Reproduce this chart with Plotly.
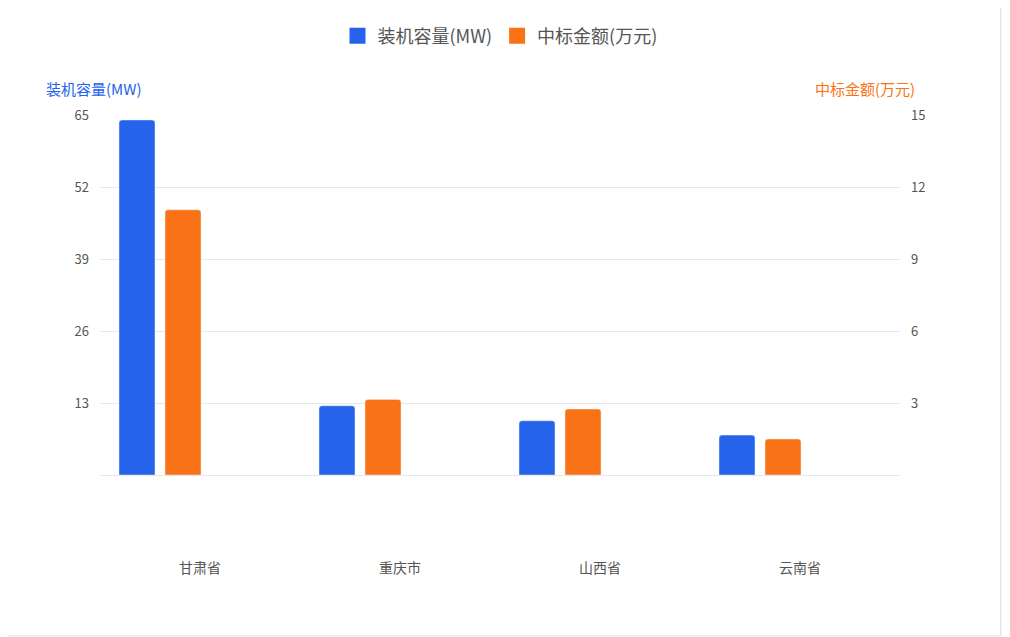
import plotly.graph_objects as go

categories = ["甘肃省", "重庆市", "山西省", "云南省"]
capacity_mw = [64.1, 12.5, 9.8, 7.2]
amount_wan = [11.05, 3.15, 2.75, 1.5]

F = "Noto Sans CJK SC"
BLUE, ORANGE = "#2563EB", "#F97316"
fig = go.Figure()
fig.add_bar(x=categories, y=capacity_mw, name="装机容量(MW)", marker_color=BLUE,
            width=0.18, offset=-0.405, yaxis="y", showlegend=False)
fig.add_bar(x=categories, y=amount_wan, name="中标金额(万元)", marker_color=ORANGE,
            width=0.18, offset=-0.175, yaxis="y2", showlegend=False)
for n, c in [("装机容量(MW)", BLUE), ("中标金额(万元)", ORANGE)]:
    fig.add_scatter(x=[None], y=[None], mode="markers", name=n,
                    marker=dict(symbol="square", size=18, color=c))
fig.update_layout(
    width=1010, height=637, paper_bgcolor="white", plot_bgcolor="white",
    font=dict(family=F, size=14, color="#555"),
    margin=dict(l=92, r=118, t=107, b=170),
    barcornerradius=3,
    legend=dict(orientation="h", x=0.5, xanchor="center", y=0.985, yref="container", yanchor="top",
                font=dict(size=18, color="#555"), itemsizing="trace"),
    xaxis=dict(showline=True, linecolor="#e5e7eb", ticks="", tickfont=dict(size=14, color="#555"),
               ticklabelstandoff=80),
    yaxis=dict(range=[0, 65], tickvals=[13, 26, 39, 52, 65], gridcolor="#e5e7eb",
               showline=False, zeroline=False, tickfont=dict(size=13, color="#555"), ticklabelstandoff=10),
    yaxis2=dict(range=[0, 15], tickvals=[3, 6, 9, 12, 15], overlaying="y", side="right",
                showgrid=False, zeroline=False, tickfont=dict(size=13, color="#555"), ticklabelstandoff=10),
    annotations=[
        dict(text="装机容量(MW)", xref="paper", yref="paper", x=-0.07, y=1.04, xanchor="left",
             yanchor="bottom", showarrow=False, font=dict(size=15, color=BLUE)),
        dict(text="中标金额(万元)", xref="paper", yref="paper", x=1.021, y=1.04, xanchor="right",
             yanchor="bottom", showarrow=False, font=dict(size=15, color=ORANGE)),
    ],
    shapes=[dict(type="rect", xref="paper", yref="paper", x0=-0.2, x1=1.126, y0=-0.447, y1=1.5,
                 line=dict(color="#d8dde6", width=1))],
)
fig.write_html("out.html")
